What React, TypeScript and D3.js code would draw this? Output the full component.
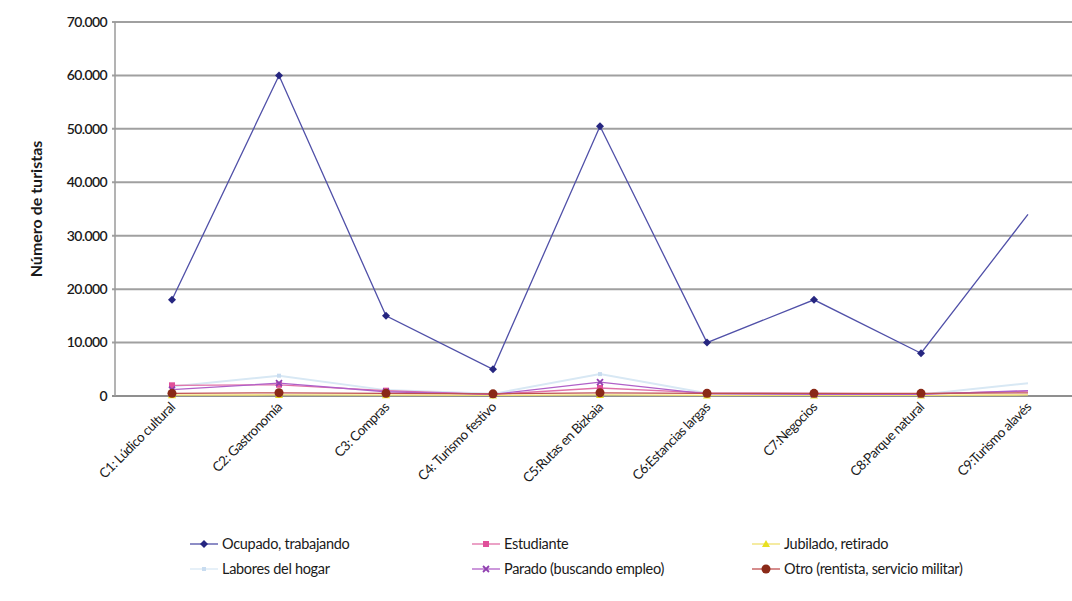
import React from "react";
import * as d3 from "d3";

const categories = [
  "C1: Lúdico cultural",
  "C2: Gastronomía",
  "C3: Compras",
  "C4: Turismo festivo",
  "C5:Rutas en Bizkaia",
  "C6:Estancias largas",
  "C7:Negocios",
  "C8:Parque natural",
  "C9:Turismo alavés",
];

const ocupado = [18000, 60000, 15000, 5000, 50500, 10000, 18000, 8000, 34000];
const estudiante = [2000, 2100, 1000, 300, 1500, 600, 500, 400, 900];
const jubilado = [150, 200, 150, 100, 200, 100, 100, 100, 200];
const labores = [1800, 3800, 1100, 400, 4100, 500, 400, 300, 2400];
const parado = [1200, 2400, 800, 300, 2600, 400, 300, 300, 1000];
const otro = [500, 600, 500, 400, 600, 500, 500, 500, 600];

const yTicks = [0, 10000, 20000, 30000, 40000, 50000, 60000, 70000];

type Sym = "diamond" | "square" | "triangle" | "none" | "x" | "circle";

const seriesList: { name: string; values: number[]; color: string; marker: string; sym: Sym }[] = [
  { name: "Ocupado, trabajando", values: ocupado, color: "#5050a8", marker: "#262680", sym: "diamond" },
  { name: "Estudiante", values: estudiante, color: "#e070a8", marker: "#e0509a", sym: "square" },
  { name: "Jubilado, retirado", values: jubilado, color: "#f0e070", marker: "#e8e020", sym: "triangle" },
  { name: "Labores del hogar", values: labores, color: "#d8e8f4", marker: "#c8dcf0", sym: "none" },
  { name: "Parado (buscando empleo)", values: parado, color: "#b060c8", marker: "#9040b0", sym: "x" },
  { name: "Otro (rentista, servicio militar)", values: otro, color: "#c05050", marker: "#8a2a18", sym: "circle" },
];

const legendOrder = [0, 1, 2, 3, 4, 5];

function Marker({ sym, x, y, color }: { sym: Sym; x: number; y: number; color: string }) {
  if (sym === "diamond")
    return <path d={`M${x},${y - 4}L${x + 4},${y}L${x},${y + 4}L${x - 4},${y}Z`} fill={color} />;
  if (sym === "square") return <rect x={x - 3} y={y - 3} width={6} height={6} fill={color} />;
  if (sym === "triangle")
    return <path d={`M${x},${y - 4}L${x + 4},${y + 3}L${x - 4},${y + 3}Z`} fill={color} />;
  if (sym === "x")
    return (
      <path
        d={`M${x - 3},${y - 3}L${x + 3},${y + 3}M${x + 3},${y - 3}L${x - 3},${y + 3}`}
        stroke={color}
        strokeWidth={1.8}
      />
    );
  if (sym === "circle") return <circle cx={x} cy={y} r={4.5} fill={color} />;
  return <rect x={x - 2} y={y - 2} width={4} height={4} fill={color} />;
}

export default function App() {
  const W = 1072;
  const H = 601;
  const x = d3.scalePoint<string>().domain(categories).range([118.5, 1081.5]).padding(0.5);
  const y = d3.scaleLinear().domain([0, 70000]).range([396, 22]);
  const fmt = (v: number) => d3.format(",")(v).replace(/,/g, ".");
  const line = d3
    .line<number>()
    .x((_, i) => x(categories[i]) as number)
    .y((v) => y(v));
  const font = "Lato, 'Open Sans', sans-serif";
  const legendCols = [190, 472, 752];
  const legendRows = [544, 569];

  const drawOrder = [3, 2, 1, 4, 5, 0];

  return (
    <svg
      width={W}
      height={H}
      style={{ position: "absolute", left: 0, top: 0, background: "#fff" }}
      fontFamily={font}
    >
      <rect width={W} height={H} fill="#fff" />
      {yTicks.map((t) => (
        <g key={t}>
          <line x1={112} x2={1081} y1={y(t)} y2={y(t)} stroke={t === 0 ? "#8f8f8f" : "#a0a0a0"} strokeWidth={2} />
          <text x={107} y={y(t)} dy="0.35em" textAnchor="end" fontSize={14} fontWeight={600} fill="#1a1a1a" letterSpacing={-0.6}>
            {fmt(t)}
          </text>
        </g>
      ))}
      <line x1={115} x2={115} y1={y(70000)} y2={y(0)} stroke="#9a9a9a" strokeWidth={1.5} />
      <text
        transform={`translate(42,${(y(0) + y(70000)) / 2}) rotate(-90)`}
        textAnchor="middle"
        fontSize={16}
        fontWeight={700}
        fill="#1a1a1a"
      >
        Número de turistas
      </text>

      {drawOrder.map((si) => {
        const s = seriesList[si];
        return (
          <g key={s.name}>
            <path d={line(s.values) || ""} fill="none" stroke={s.color} strokeWidth={si === 3 ? 2 : 1.3} />
            {s.values.slice(0, categories.length - 1).map((v, i) => (
              <Marker key={i} sym={s.sym} x={x(categories[i]) as number} y={y(v)} color={s.marker} />
            ))}
          </g>
        );
      })}

      {categories.map((c) => (
        <text
          key={c}
          transform={`translate(${(x(c) as number) + 4},${408}) rotate(-45)`}
          textAnchor="end"
          fontSize={13.5}
          fill="#1a1a1a"
          letterSpacing={-0.5}
        >
          {c}
        </text>
      ))}

      {legendOrder.map((si, k) => {
        const s = seriesList[si];
        const lx = legendCols[k % 3];
        const ly = legendRows[Math.floor(k / 3)];
        return (
          <g key={s.name}>
            <line x1={lx} x2={lx + 28} y1={ly} y2={ly} stroke={s.color} strokeWidth={1.3} />
            <Marker sym={s.sym} x={lx + 14} y={ly} color={s.marker} />
            <text x={lx + 32} y={ly} dy="0.35em" fontSize={14.5} fill="#1a1a1a" letterSpacing={-0.3}>
              {s.name}
            </text>
          </g>
        );
      })}
    </svg>
  );
}
